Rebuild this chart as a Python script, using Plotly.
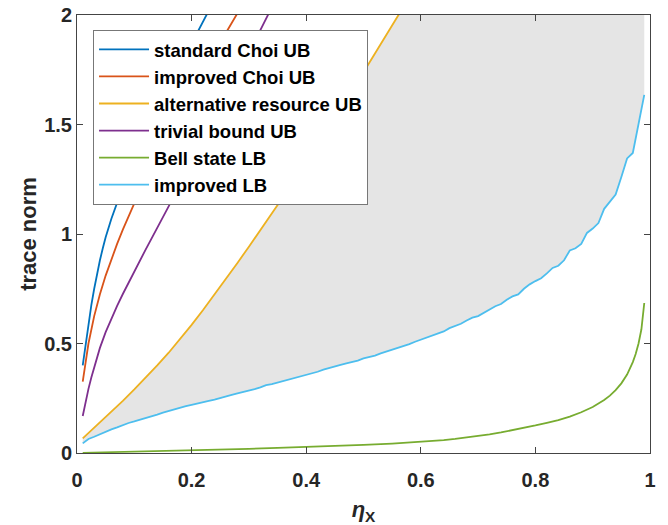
import plotly.graph_objects as go

# ---------------- data ----------------
std_choi_x = [0.01, 0.015, 0.02, 0.025, 0.03, 0.035, 0.04, 0.045, 0.05, 0.06, 0.07, 0.08,
              0.10, 0.12, 0.14, 0.16, 0.18, 0.20, 0.22, 0.24]
std_choi_y = [0.40, 0.50, 0.592, 0.675, 0.75, 0.818, 0.88, 0.935, 0.985, 1.07, 1.145, 1.215,
              1.34, 1.455, 1.565, 1.67, 1.772, 1.872, 1.97, 2.07]

imp_choi_x = [0.01, 0.015, 0.02, 0.03, 0.04, 0.05, 0.06, 0.07, 0.08, 0.10, 0.12, 0.14,
              0.16, 0.18, 0.20, 0.22, 0.24, 0.26, 0.28]
imp_choi_y = [0.326, 0.42, 0.50, 0.625, 0.725, 0.81, 0.885, 0.955, 1.02, 1.14, 1.25, 1.355,
              1.455, 1.552, 1.646, 1.738, 1.829, 1.919, 2.008]

alt_x = [0.01, 0.02, 0.04, 0.06, 0.08, 0.10, 0.12, 0.14, 0.16, 0.18, 0.20, 0.22, 0.24,
         0.26, 0.28, 0.30, 0.32, 0.34, 0.36, 0.38, 0.40, 0.42, 0.44, 0.46, 0.48, 0.50,
         0.52, 0.54, 0.56, 0.58, 0.60, 0.65, 0.70, 0.80, 0.90, 0.99]
alt_y = [0.067, 0.091, 0.138, 0.187, 0.238, 0.290, 0.344, 0.400, 0.458, 0.520, 0.585, 0.653,
         0.723, 0.795, 0.868, 0.942, 1.017, 1.093, 1.170, 1.248, 1.327, 1.407, 1.488, 1.570,
         1.653, 1.737, 1.822, 1.908, 1.995, 2.083, 2.172, 2.40, 2.64, 3.2, 3.9, 4.7]

triv_x = [0.01, 0.015, 0.02, 0.025, 0.03, 0.035, 0.04, 0.05, 0.06, 0.07, 0.08, 0.10, 0.12,
          0.14, 0.16, 0.18, 0.20, 0.22, 0.24, 0.26, 0.28, 0.30, 0.32, 0.34]
triv_y = [0.169, 0.235, 0.293, 0.345, 0.393, 0.438, 0.48, 0.552, 0.615, 0.672, 0.726, 0.83,
          0.93, 1.028, 1.125, 1.222, 1.32, 1.42, 1.52, 1.62, 1.722, 1.825, 1.93, 2.035]

bell_x = [0.01, 0.05, 0.10, 0.15, 0.20, 0.25, 0.30, 0.35, 0.40, 0.45, 0.50, 0.55, 0.60,
          0.62, 0.64, 0.66, 0.68, 0.70, 0.72, 0.74, 0.76, 0.78, 0.80, 0.82, 0.84, 0.86,
          0.88, 0.90, 0.91, 0.92, 0.93, 0.94, 0.95, 0.96, 0.97, 0.975, 0.98, 0.985, 0.99]
bell_y = [0.001, 0.003, 0.006, 0.009, 0.012, 0.016, 0.019, 0.023, 0.027, 0.032, 0.037,
          0.043, 0.050, 0.054, 0.059, 0.064, 0.070, 0.077, 0.085, 0.094, 0.104, 0.115,
          0.126, 0.138, 0.150, 0.166, 0.186, 0.210, 0.225, 0.242, 0.262, 0.287, 0.318,
          0.358, 0.415, 0.452, 0.500, 0.565, 0.685]

lb_x = [i / 100 for i in range(1, 100)]
lb_y = [0.044, 0.064, 0.074, 0.085, 0.099, 0.108, 0.117, 0.128, 0.137, 0.144,
        0.151, 0.161, 0.168, 0.175, 0.184, 0.192, 0.199, 0.207, 0.214, 0.220,
        0.225, 0.231, 0.238, 0.244, 0.250, 0.258, 0.265, 0.272, 0.278, 0.287,
        0.292, 0.300, 0.310, 0.315, 0.322, 0.328, 0.336, 0.343, 0.350, 0.358,
        0.363, 0.371, 0.381, 0.387, 0.395, 0.402, 0.409, 0.414, 0.422, 0.432,
        0.438, 0.445, 0.455, 0.463, 0.472, 0.480, 0.489, 0.497, 0.508, 0.518,
        0.525, 0.535, 0.545, 0.555, 0.570, 0.580, 0.590, 0.605, 0.618, 0.625,
        0.640, 0.656, 0.670, 0.680, 0.700, 0.715, 0.724, 0.750, 0.770, 0.785,
        0.798, 0.820, 0.845, 0.855, 0.880, 0.925, 0.935, 0.955, 1.005, 1.025,
        1.050, 1.115, 1.150, 1.180, 1.260, 1.345, 1.370, 1.500, 1.635]

x_ticks = [0, 0.2, 0.4, 0.6, 0.8, 1]
y_ticks = [0, 0.5, 1, 1.5, 2]

# ---------------- figure ----------------
FONT = "Liberation Sans"
fig = go.Figure()

# shaded region between improved LB and alternative resource UB
fill_x = lb_x + alt_x[::-1]
fill_y = lb_y + alt_y[::-1]
fig.add_trace(go.Scatter(x=fill_x, y=fill_y, mode="lines", fill="toself",
                         fillcolor="#e5e5e5", line=dict(width=0),
                         showlegend=False, hoverinfo="skip"))

series = [
    ("standard Choi UB", std_choi_x, std_choi_y, "#0072BD"),
    ("improved Choi UB", imp_choi_x, imp_choi_y, "#D95319"),
    ("alternative resource UB", alt_x, alt_y, "#EDB120"),
    ("trivial bound UB", triv_x, triv_y, "#7E2F8E"),
    ("Bell state LB", bell_x, bell_y, "#77AC30"),
    ("improved LB", lb_x, lb_y, "#4DBEEE"),
]
for name, xs, ys, col in series:
    fig.add_trace(go.Scatter(x=xs, y=ys, mode="lines", name=f"<b>{name}</b>",
                             line=dict(color=col, width=1.8)))

axis_common = dict(
    showline=True, linecolor="#444444", linewidth=1, mirror="ticks",
    ticks="inside", ticklen=6, tickcolor="#444444", tickwidth=1,
    showgrid=False, zeroline=False, automargin=False,
    tickfont=dict(family=FONT, size=20, color="#262626"),
)

fig.update_xaxes(range=[0, 1], tickvals=x_ticks, ticktext=[f"<b>{v:g}</b>" for v in x_ticks],
                 ticklabelstandoff=9,
                 title=dict(text="<b><i>η</i><sub>X</sub></b>",
                            font=dict(family=FONT, size=22, color="#262626"), standoff=12),
                 **axis_common)
fig.update_yaxes(range=[0, 2], tickvals=y_ticks, ticktext=[f"<b>{v:g}</b>" for v in y_ticks],
                 title=dict(text="<b>trace norm</b>",
                            font=dict(family=FONT, size=22, color="#262626"), standoff=1),
                 **axis_common)

fig.update_layout(
    width=668, height=525,
    margin=dict(l=77, r=18, t=15, b=72, autoexpand=False),
    paper_bgcolor="white", plot_bgcolor="white",
    legend=dict(x=0.028, y=0.966, xanchor="left", yanchor="top",
                bgcolor="white", bordercolor="#777777", borderwidth=1,
                font=dict(family=FONT, size=18.5, color="black"),
                itemwidth=50, tracegroupgap=0),
    showlegend=True,
)

fig.write_html("out.html", config={"displayModeBar": False},
               post_script="document.body.style.margin='0';document.body.style.padding='0';")
